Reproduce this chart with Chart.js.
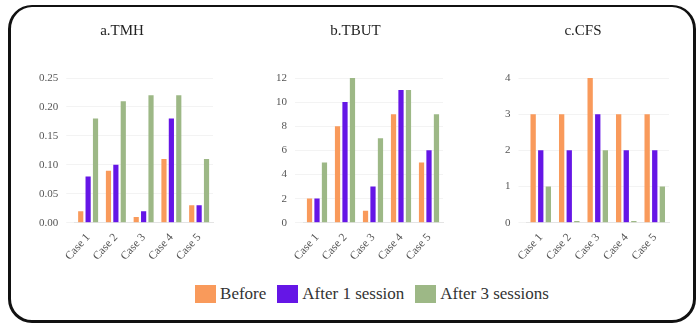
<!DOCTYPE html>
<html>
<head>
<meta charset="utf-8">
<script src="https://cdn.jsdelivr.net/npm/chart.js@4"></script>
<style>
  body { margin: 0; width: 696px; height: 324px; background: #fff; overflow: hidden; position: relative; font-family: "Liberation Serif", "DejaVu Serif", serif; }
  #frame { position: absolute; left: 8px; top: 5px; width: 688px; height: 318px; border: 3px solid #111; border-top-width: 2px; border-radius: 24px; box-sizing: border-box; }
  .box { position: absolute; top: 8px; height: 255px; }
  #legend { position: absolute; top: 284px; left: 0; width: 744px; display: flex; justify-content: center; gap: 11px; font-size: 17px; color: #333; }
  #legend span { display: flex; align-items: center; }
  #legend i { display: inline-block; width: 21px; height: 18px; margin-right: 4px; }
</style>
</head>
<body>
<div id="frame"></div>
<div class="box" style="left:17px;width:210px"><canvas id="c1"></canvas></div>
<div class="box" style="left:243px;width:210px"><canvas id="c2"></canvas></div>
<div class="box" style="left:473px;width:210px"><canvas id="c3"></canvas></div>
<div id="legend"></div>
<script>
// categories and series
const cases = ['Case 1', 'Case 2', 'Case 3', 'Case 4', 'Case 5'];
const seriesNames = ['Before', 'After 1 session', 'After 3 sessions'];
const seriesColors = ['#f99a5b', '#6516e6', '#9db886'];

const tmhBefore = [0.02, 0.09, 0.01, 0.11, 0.03];
const tmhAfter1 = [0.08, 0.10, 0.02, 0.18, 0.03];
const tmhAfter3 = [0.18, 0.21, 0.22, 0.22, 0.11];

const tbutBefore = [2, 8, 1, 9, 5];
const tbutAfter1 = [2, 10, 3, 11, 6];
const tbutAfter3 = [5, 12, 7, 11, 9];

const cfsBefore = [3, 3, 4, 3, 3];
const cfsAfter1 = [2, 2, 3, 2, 2];
const cfsAfter3 = [1, 0.05, 2, 0.05, 1];

const serif = '"Liberation Serif", "DejaVu Serif", serif';

function makeChart(id, title, series, max, step, fmt, padLeft, padRight) {
    const ctx = document.getElementById(id).getContext('2d');
    return new Chart(ctx, {
        type: 'bar',
        data: {
            labels: cases,
            datasets: series.map((vals, i) => ({
                label: seriesNames[i],
                data: vals,
                backgroundColor: seriesColors[i],
                categoryPercentage: 0.8,
                barPercentage: 0.7
            }))
        },
        options: {
            responsive: true,
            maintainAspectRatio: false,
            animation: false,
            layout: { padding: { left: padLeft, right: padRight, top: 0, bottom: 0 } },
            plugins: {
                legend: { display: false },
                title: {
                    display: true,
                    text: title,
                    color: '#222',
                    font: { family: serif, size: 15, weight: 'normal' },
                    padding: { top: 14, bottom: 38 }
                }
            },
            scales: {
                x: {
                    grid: { display: false },
                    border: { color: '#e4e4e4' },
                    ticks: { color: '#555', font: { family: serif, size: 11.5 }, maxRotation: 48, minRotation: 48, padding: 0 }
                },
                y: {
                    min: 0,
                    max: max,
                    grid: { color: '#f3f3f3' },
                    border: { display: false },
                    ticks: { stepSize: step, color: '#555', font: { family: serif, size: 11 }, padding: 8,
                        callback: v => fmt(v) }
                }
            }
        }
    });
}

makeChart('c1', 'a.TMH', [tmhBefore, tmhAfter1, tmhAfter3], 0.25, 0.05, v => v.toFixed(2), 14, 14);
makeChart('c2', 'b.TBUT', [tbutBefore, tbutAfter1, tbutAfter3], 12, 2, v => v, 25, 10);
makeChart('c3', 'c.CFS', [cfsBefore, cfsAfter1, cfsAfter3], 4, 1, v => v, 24, 14);

// shared legend
const legend = document.getElementById('legend');
seriesNames.forEach((name, i) => {
    const s = document.createElement('span');
    s.innerHTML = '<i style="background:' + seriesColors[i] + '"></i>' + name;
    legend.appendChild(s);
});
</script>
</body>
</html>
